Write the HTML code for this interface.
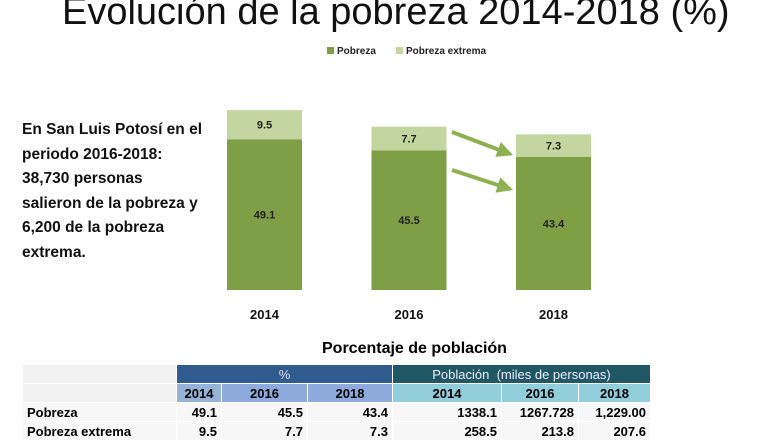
<!DOCTYPE html>
<html><head><meta charset="utf-8"><style>
body{margin:0;width:777px;height:437px;background:#fff;overflow:hidden;position:relative;font-family:"Liberation Sans",sans-serif}
.t{position:absolute}
table{position:absolute;left:22px;top:364px;border-collapse:collapse;font-size:13px;font-weight:bold}
td{padding:0 4px;height:18px;border:1px solid #fff}
</style></head><body>
<div class="t" style="left:62px;top:-9px;font-size:38px;color:#111;white-space:nowrap">Evolución de la pobreza 2014-2018 (%)</div>
<div class="t" style="left:22px;top:118px;font-size:15.5px;font-weight:bold;line-height:24.5px;color:#111">En San Luis Potosí en el<br>periodo 2016-2018:<br>38,730 personas<br>salieron de la pobreza y<br>6,200 de la pobreza<br>extrema.</div>
<svg class="t" style="left:0;top:0" width="777" height="340">
<defs><marker id="ah" viewBox="0 0 10 10" refX="8" refY="5" markerWidth="4" markerHeight="4" orient="auto"><path d="M0,0L10,5L0,10z" fill="#8db050"/></marker></defs>
<g id="legend" font-size="10" font-weight="bold" fill="#222">
<rect x="327" y="47" width="7" height="7" fill="#7e9f45"/><text x="337" y="54">Pobreza</text>
<rect x="396" y="47" width="7" height="7" fill="#c4d6a0"/><text x="406" y="54">Pobreza extrema</text>
</g>
<g id="bars"></g>
<line x1="452" y1="132" x2="510" y2="154" stroke="#8db050" stroke-width="4" marker-end="url(#ah)"/>
<line x1="452" y1="170" x2="510" y2="189" stroke="#8db050" stroke-width="4" marker-end="url(#ah)"/>
</svg>
<div class="t" style="left:322px;top:340px;font-size:16px;font-weight:bold">Porcentaje de población</div>
<table>
<tr><td style="width:145px;background:#f2f2f2"></td><td colspan="3" style="background:#2f5b8f;color:#dde;text-align:center;font-weight:normal">%</td><td colspan="3" style="background:#1f5864;color:#eef;text-align:center;font-weight:normal">Población &nbsp;(miles de personas)</td></tr>
<tr style="text-align:center"><td style="background:#f2f2f2"></td><td style="width:36px;background:#95b3d7">2014</td><td style="width:77px;background:#8eaadc">2016</td><td style="width:76px;background:#8eaadc">2018</td><td style="width:100px;background:#92cddc">2014</td><td style="width:68px;background:#92cddc">2016</td><td style="width:63px;background:#92cddc">2018</td></tr>
<tr style="text-align:right;background:#f7f7f7"><td style="text-align:left">Pobreza</td><td>49.1</td><td>45.5</td><td>43.4</td><td>1338.1</td><td>1267.728</td><td>1,229.00</td></tr>
<tr style="text-align:right;background:#f7f7f7"><td style="text-align:left">Pobreza extrema</td><td>9.5</td><td>7.7</td><td>7.3</td><td>258.5</td><td>213.8</td><td>207.6</td></tr>
</table>
<script>
const years=["2014","2016","2018"];
const pobreza=[49.1,45.5,43.4];
const extrema=[9.5,7.7,7.3];
const base=290,sc=3.07,x0=227,step=144.5,bw=75;
const y=v=>base-v*sc;
const g=document.getElementById('bars');
const NS="http://www.w3.org/2000/svg";
function mk(t,a){const e=document.createElementNS(NS,t);for(const k in a)e.setAttribute(k,a[k]);g.appendChild(e);return e;}
years.forEach((yr,i)=>{
 const x=x0+i*step;
 const r1=mk('rect',{x:x,y:y(pobreza[i]),width:bw,height:pobreza[i]*sc,fill:'#7e9f45'});
 
 
 const r2=mk('rect',{x:x,y:y(pobreza[i]+extrema[i]),width:bw,height:extrema[i]*sc,fill:'#c4d6a0'});
 
 
 const l1=mk('text',{x:x+bw/2,y:y(pobreza[i]/2)+4,'text-anchor':'middle','font-size':11,'font-weight':'bold',fill:'#222'});l1.textContent=pobreza[i];
 
 
 const l2=mk('text',{x:x+bw/2,y:y(pobreza[i]+extrema[i]/2)+4,'text-anchor':'middle','font-size':11,'font-weight':'bold',fill:'#222'});l2.textContent=extrema[i];
 
 
 const t=mk('text',{x:x+bw/2,y:319,'text-anchor':'middle','font-size':13,'font-weight':'bold',fill:'#111'});t.textContent=yr;
 
 
});
</script>
</body></html>
